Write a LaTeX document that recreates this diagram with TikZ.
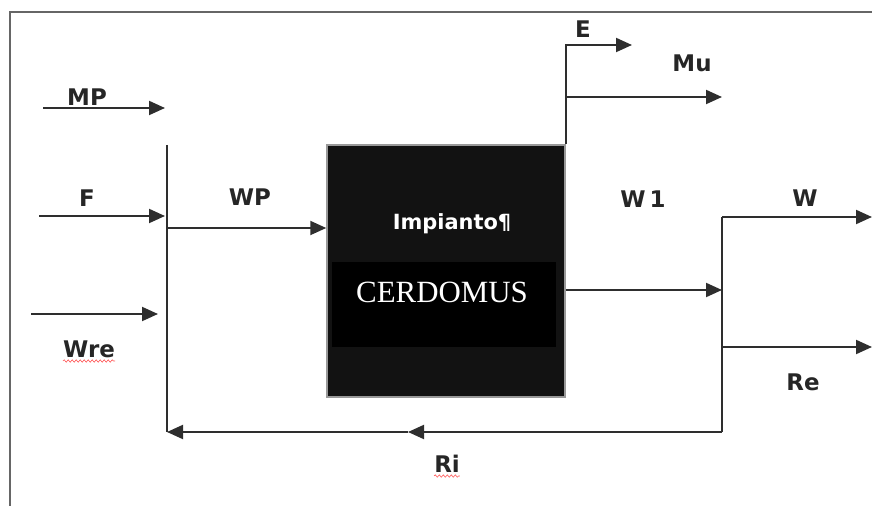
\documentclass[tikz,border=0pt]{standalone}
\usepackage{fontspec}
\setmainfont{DejaVu Sans}
\newfontfamily\brandfont{Liberation Serif}
\usepackage{tikz}
\usetikzlibrary{arrows.meta,decorations.pathmorphing}
\tikzset{>={Triangle[width=14bp,length=16bp]}}
\tikzset{
  flow/.style={draw=black!82,line width=2bp},
  lbl/.style={font=\fontsize{23}{23}\selectfont\bfseries,text=black!85,inner sep=0pt,anchor=base},
  typo/.style={draw=red!65,line width=0.6bp,decorate,decoration={snake,amplitude=1.2bp,segment length=4bp}}
}

\begin{document}
\begin{tikzpicture}[x=1bp,y=-1bp]

  \useasboundingbox (0,0) rectangle (872,506);

  \newcommand\barL{167};
  \newcommand\barR{722};

  %% frame
  \draw[black!60,line width=2bp] (885,12) -- (10,12) -- (10,520);

  %% plant block
  \node[draw=black!40,fill=black!93,line width=1.5bp,minimum width=238bp,minimum height=252bp,inner sep=0pt] (plant) at (446,271) {};
  \node[fill=black,minimum width=224bp,minimum height=85bp,inner sep=0pt] (brand) at (444,304.5) {};
  \node[lbl,text=white,font=\fontsize{21}{21}\selectfont\bfseries] (impianto) at (452,230) {Impianto¶};
  \node[text=white,font=\brandfont\fontsize{31}{31}\selectfont,inner sep=0pt,anchor=base] (cerdomus) at (442,303) {CERDOMUS};

  %% junction points
  \coordinate (lTop) at (\barL,145);
  \coordinate (lBot) at (\barL,432);
  \coordinate (rTop) at (\barR,217);
  \coordinate (rBot) at (\barR,432);
  \coordinate (riMid) at (408,432);

  \coordinate (mpIn) at (43,108);
  \coordinate (mpOut) at (165,108);
  \coordinate (fIn) at (39,216);
  \coordinate (fOut) at (165,216);
  \coordinate (wreIn) at (31,314);
  \coordinate (wreOut) at (158,314);
  \coordinate (wpIn) at (\barL,228);
  \coordinate (eOut) at (632,45);
  \coordinate (muOut) at (722,97);
  \coordinate (wOut) at (872,217);
  \coordinate (reIn) at (\barR,347);
  \coordinate (reOut) at (872,347);

  %% inputs
  \draw[flow,->] (mpIn) -- (mpOut); % MP
  \draw[flow,->] (fIn) -- (fOut); % F
  \draw[flow,->] (wreIn) -- (wreOut); % Wre
  \draw[flow] (lTop) -- (lBot); % collector
  \draw[flow,->] (wpIn) -- (wpIn -| plant.west); % WP

  %% outputs
  \draw[flow,->] (plant.north east) |- (eOut); % E
  \draw[flow,->] (plant.east |- muOut) -- (muOut); % Mu
  \draw[flow,->] (plant.east |- 0,290) -- (\barR,290); % W1
  \draw[flow] (rTop) -- (rBot); % splitter
  \draw[flow,->] (rTop) -- (wOut); % W
  \draw[flow,->] (reIn) -- (reOut); % Re

  %% recycle
  \draw[flow,->] (rBot) -- (riMid);
  \draw[flow,->] (riMid) -- (lBot); % Ri

  %% labels
  \node[lbl] (mp) at (87,106) {MP};
  \node[lbl] (f) at (87,207) {F};
  \node[lbl] (wre) at (89,357) {Wre};
  \node[lbl] (wp) at (250,206) {WP};
  \node[lbl] (e) at (583,38) {E};
  \node[lbl] (mu) at (692,72) {Mu};
  \node[lbl] (w1) at (643,208) {W\,1};
  \node[lbl] (w) at (805,207) {W};
  \node[lbl] (re) at (803,390) {Re};
  \node[lbl] (ri) at (447,472) {Ri};

  \draw[typo] ([yshift=-4bp]wre.base west) -- ([yshift=-4bp]wre.base east);
  \draw[typo] ([yshift=-4bp]ri.base west) -- ([yshift=-4bp]ri.base east);

\end{tikzpicture}
\end{document}
